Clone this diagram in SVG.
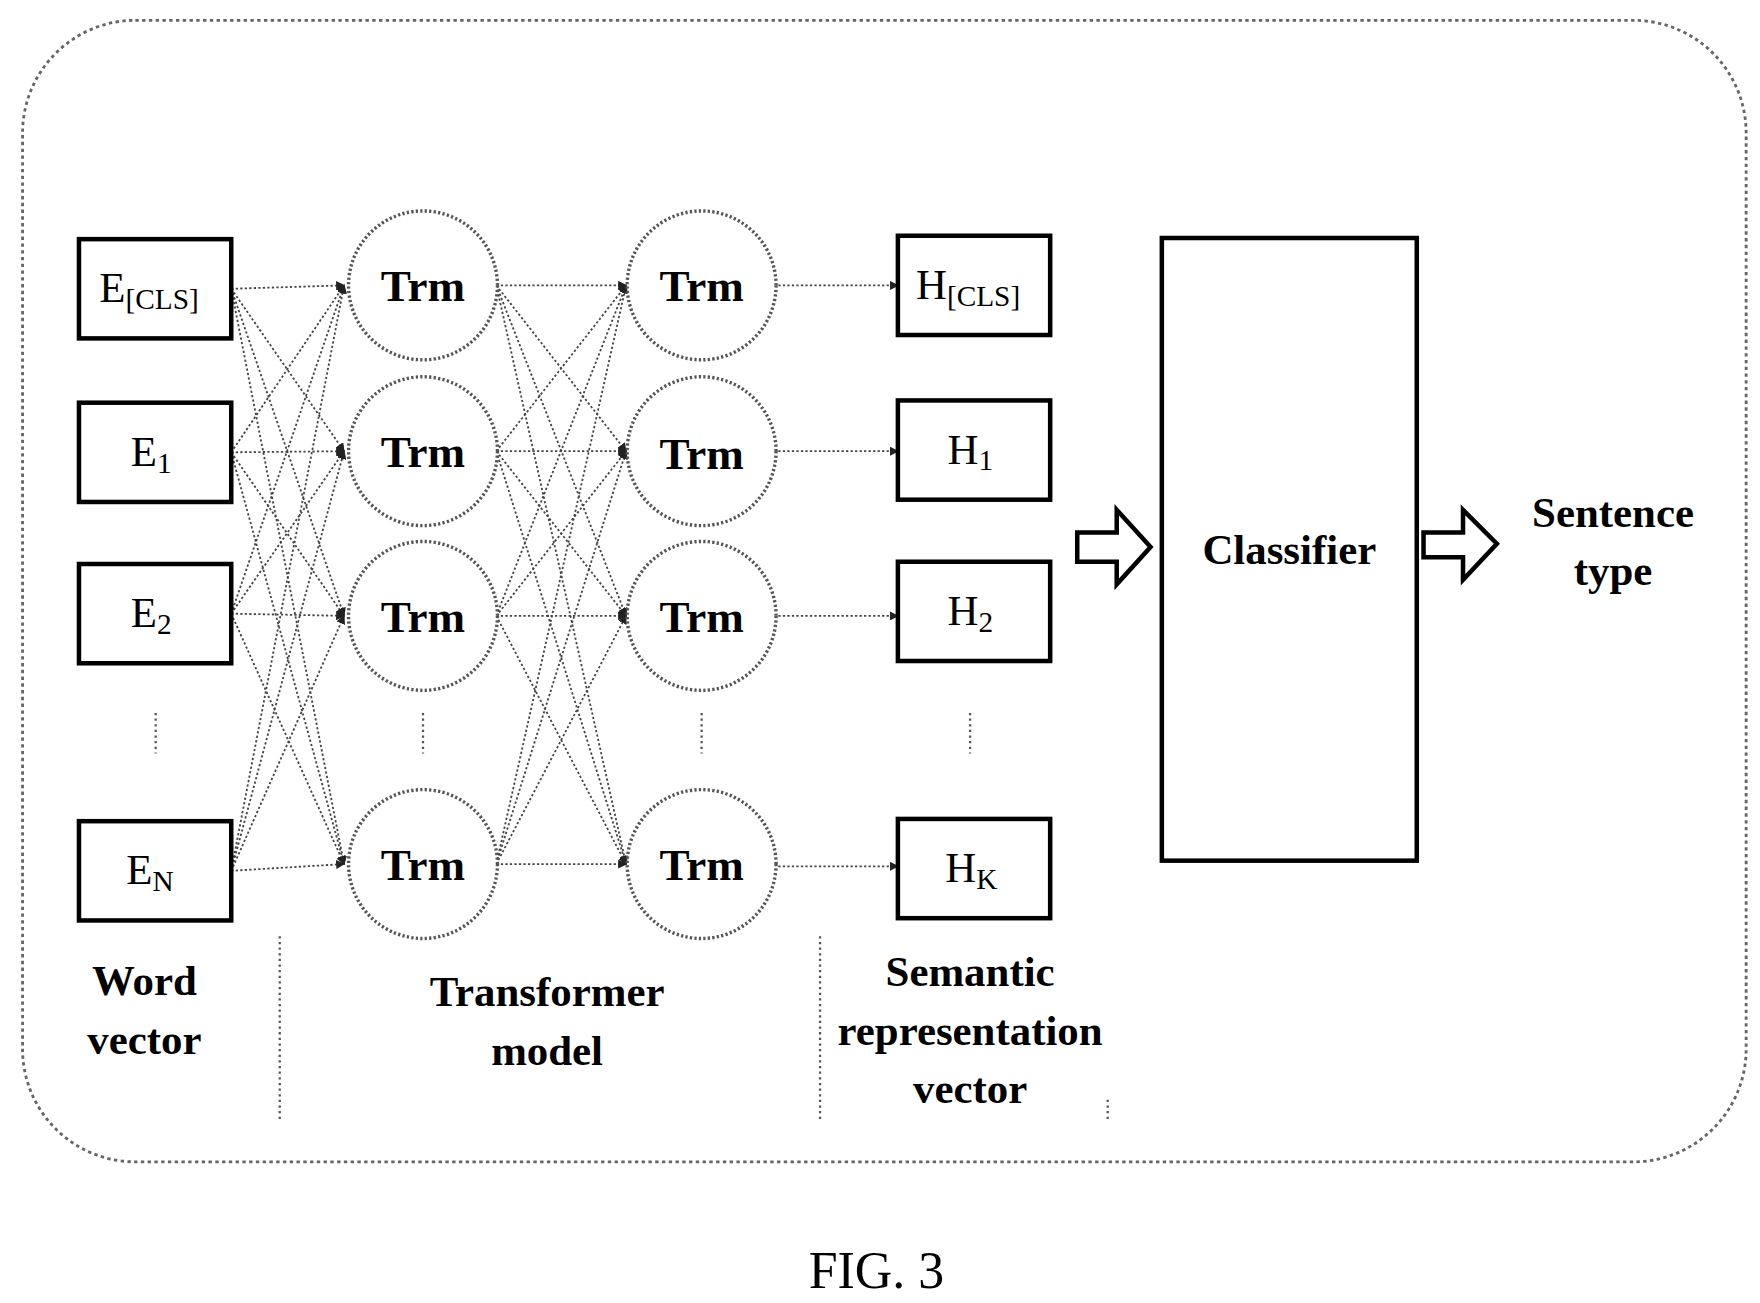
<svg xmlns="http://www.w3.org/2000/svg" width="1760" height="1303" viewBox="0 0 1760 1303">
<style>
.box{fill:#fff;stroke:#000;stroke-width:4}
.c{fill:#fff;stroke:#555;stroke-width:3;stroke-dasharray:2 2}
.t{font-family:"Liberation Serif",serif;fill:#000}
.b{font-family:"Liberation Serif",serif;font-weight:bold;fill:#000}
.l path{stroke:#444;stroke-width:1.6;stroke-dasharray:2 2;fill:none;marker-end:url(#a)}
.d{stroke:#555;stroke-width:2;stroke-dasharray:2 3;fill:none}
</style>
<defs><marker id="a" markerWidth="8" markerHeight="8" refX="7" refY="4" orient="auto" markerUnits="userSpaceOnUse"><path d="M0,0 L8,4 L0,8 z" fill="#222"/></marker></defs>
<rect width="1760" height="1303" fill="#fff"/>
<g transform="scale(1.128)">
<rect x="20" y="18" width="1528" height="1012" rx="100" fill="none" stroke="#666" stroke-width="2.5" stroke-dasharray="3 3"/>
<g id="connectors">
<g class="l">
<path d="M205,256 L305,253"/><path d="M205,256 L305,400"/><path d="M205,256 L305,546"/><path d="M205,256 L305,766"/>
<path d="M205,401 L305,253"/><path d="M205,401 L305,400"/><path d="M205,401 L305,546"/><path d="M205,401 L305,766"/>
<path d="M205,544 L305,253"/><path d="M205,544 L305,400"/><path d="M205,544 L305,546"/><path d="M205,544 L305,766"/>
<path d="M205,772 L305,253"/><path d="M205,772 L305,400"/><path d="M205,772 L305,546"/><path d="M205,772 L305,766"/>
<path d="M440,253 L555,253"/><path d="M440,253 L555,400"/><path d="M440,253 L555,546"/><path d="M440,253 L555,766"/>
<path d="M440,400 L555,253"/><path d="M440,400 L555,400"/><path d="M440,400 L555,546"/><path d="M440,400 L555,766"/>
<path d="M440,546 L555,253"/><path d="M440,546 L555,400"/><path d="M440,546 L555,546"/><path d="M440,546 L555,766"/>
<path d="M440,766 L555,253"/><path d="M440,766 L555,400"/><path d="M440,766 L555,546"/><path d="M440,766 L555,766"/>
<path d="M690,253 L796,253"/><path d="M690,400 L796,400"/><path d="M690,546 L796,546"/><path d="M690,768 L796,768"/>
</g>
<path class="d" d="M248,830 V995 M727,830 V995 M982,975 V995 M138,632 V668 M375,632 V668 M622,632 V668 M860,632 V668"/>
<path d="M955,472 H990 V452 L1020,485 L990,518 V498 H955 Z" fill="#fff" stroke="#000" stroke-width="4"/>
<path d="M1262,472 H1297 V452 L1327,482 L1297,514 V494 H1262 Z" fill="#fff" stroke="#000" stroke-width="4"/>
</g>
<g id="e0"><rect class="box" x="70" y="212" width="135" height="88"/><text class="t" x="88" y="268" font-size="38">E<tspan font-size="26" dy="6">[CLS]</tspan></text></g>
<g id="e1"><rect class="box" x="70" y="357" width="135" height="88"/><text class="t" x="116" y="413" font-size="38">E<tspan font-size="26" dy="6">1</tspan></text></g>
<g id="e2"><rect class="box" x="70" y="500" width="135" height="88"/><text class="t" x="116" y="556" font-size="38">E<tspan font-size="26" dy="6">2</tspan></text></g>
<g id="en"><rect class="box" x="70" y="728" width="135" height="88"/><text class="t" x="112" y="784" font-size="38">E<tspan font-size="26" dy="6">N</tspan></text></g>
<g id="t1a"><circle class="c" cx="375" cy="253" r="66"/><text class="b" x="375" y="267" font-size="40" text-anchor="middle">Trm</text></g>
<g id="t1b"><circle class="c" cx="375" cy="400" r="66"/><text class="b" x="375" y="414" font-size="40" text-anchor="middle">Trm</text></g>
<g id="t1c"><circle class="c" cx="375" cy="546" r="66"/><text class="b" x="375" y="560" font-size="40" text-anchor="middle">Trm</text></g>
<g id="t1d"><circle class="c" cx="375" cy="766" r="66"/><text class="b" x="375" y="780" font-size="40" text-anchor="middle">Trm</text></g>
<g id="t2a"><circle class="c" cx="622" cy="253" r="66"/><text class="b" x="622" y="267" font-size="40" text-anchor="middle">Trm</text></g>
<g id="t2b"><circle class="c" cx="622" cy="400" r="66"/><text class="b" x="622" y="416" font-size="40" text-anchor="middle">Trm</text></g>
<g id="t2c"><circle class="c" cx="622" cy="546" r="66"/><text class="b" x="622" y="560" font-size="40" text-anchor="middle">Trm</text></g>
<g id="t2d"><circle class="c" cx="622" cy="766" r="66"/><text class="b" x="622" y="780" font-size="40" text-anchor="middle">Trm</text></g>
<g id="h0"><rect class="box" x="796" y="209" width="135" height="88"/><text class="t" x="812" y="265" font-size="38">H<tspan font-size="26" dy="6">[CLS]</tspan></text></g>
<g id="h1"><rect class="box" x="796" y="355" width="135" height="88"/><text class="t" x="840" y="411" font-size="38">H<tspan font-size="26" dy="6">1</tspan></text></g>
<g id="h2"><rect class="box" x="796" y="498" width="135" height="88"/><text class="t" x="840" y="554" font-size="38">H<tspan font-size="26" dy="6">2</tspan></text></g>
<g id="hk"><rect class="box" x="796" y="726" width="135" height="88"/><text class="t" x="838" y="782" font-size="38">H<tspan font-size="26" dy="6">K</tspan></text></g>
<g id="classifier"><rect class="box" x="1030" y="211" width="226" height="552"/><text class="b" x="1143" y="500" font-size="38" text-anchor="middle">Classifier</text></g>
<g id="labels">
<text class="b" x="1430" y="467" font-size="38" text-anchor="middle">Sentence</text>
<text class="b" x="1430" y="519" font-size="38" text-anchor="middle">type</text>
<text class="b" x="128" y="882" font-size="38" text-anchor="middle">Word</text>
<text class="b" x="128" y="934" font-size="38" text-anchor="middle">vector</text>
<text class="b" x="485" y="892" font-size="38" text-anchor="middle">Transformer</text>
<text class="b" x="485" y="944" font-size="38" text-anchor="middle">model</text>
<text class="b" x="860" y="874" font-size="38" text-anchor="middle">Semantic</text>
<text class="b" x="860" y="926" font-size="38" text-anchor="middle">representation</text>
<text class="b" x="860" y="978" font-size="38" text-anchor="middle">vector</text>
<text class="t" x="777" y="1142" font-size="46" text-anchor="middle">FIG. 3</text>
</g>
</g>
</svg>
